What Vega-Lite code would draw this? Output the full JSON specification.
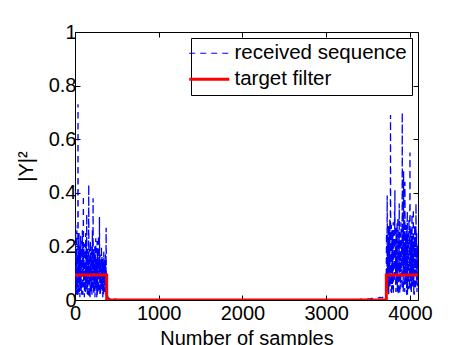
{
  "$schema": "https://vega.github.io/schema/vega-lite/v6.json",
  "width": 343,
  "height": 268,
  "autosize": {"type": "none"},
  "padding": {"left": 75, "top": 32, "right": 39, "bottom": 45},
  "background": "#ffffff",
  "config": {
    "view": {"stroke": "#000000", "strokeWidth": 1},
    "font": "Liberation Sans",
    "axis": {
      "domain": false,
      "grid": false,
      "tickColor": "#000000",
      "tickSize": -5,
      "tickWidth": 1,
      "labelFont": "Liberation Sans",
      "labelFontSize": 20,
      "labelColor": "#000000",
      "titleFont": "Liberation Sans",
      "titleFontSize": 20,
      "titleFontWeight": "normal",
      "titleColor": "#000000"
    },
    "legend": {
      "labelFont": "Liberation Sans",
      "labelFontSize": 20.5,
      "labelColor": "#000000",
      "labelLimit": 400
    }
  },
  "datasets": {
    "received": [
      {"x": 0, "y": 0.45}, {"x": 4, "y": 0.05}, {"x": 8, "y": 0.28}, {"x": 12, "y": 0.12}, {"x": 16, "y": 0.02},
      {"x": 20, "y": 0.22}, {"x": 24, "y": 0.09}, {"x": 28, "y": 0.15}, {"x": 32, "y": 0.01}, {"x": 36, "y": 0.73},
      {"x": 40, "y": 0.06}, {"x": 44, "y": 0.18}, {"x": 48, "y": 0.25}, {"x": 52, "y": 0.03}, {"x": 56, "y": 0.11},
      {"x": 60, "y": 0.2}, {"x": 64, "y": 0.04}, {"x": 68, "y": 0.24}, {"x": 72, "y": 0.08}, {"x": 76, "y": 0.16},
      {"x": 80, "y": 0.02}, {"x": 84, "y": 0.13}, {"x": 88, "y": 0.26}, {"x": 92, "y": 0.05}, {"x": 96, "y": 0.19},
      {"x": 100, "y": 0.39}, {"x": 104, "y": 0.07}, {"x": 108, "y": 0.14}, {"x": 112, "y": 0.01}, {"x": 116, "y": 0.21},
      {"x": 120, "y": 0.1}, {"x": 124, "y": 0.03}, {"x": 128, "y": 0.25}, {"x": 132, "y": 0.12}, {"x": 136, "y": 0.06},
      {"x": 140, "y": 0.32}, {"x": 144, "y": 0.09}, {"x": 148, "y": 0.17}, {"x": 152, "y": 0.02}, {"x": 156, "y": 0.15},
      {"x": 160, "y": 0.08}, {"x": 164, "y": 0.43}, {"x": 168, "y": 0.04}, {"x": 172, "y": 0.19}, {"x": 176, "y": 0.11},
      {"x": 180, "y": 0.01}, {"x": 184, "y": 0.22}, {"x": 188, "y": 0.07}, {"x": 192, "y": 0.14}, {"x": 196, "y": 0.03},
      {"x": 200, "y": 0.18}, {"x": 204, "y": 0.09}, {"x": 208, "y": 0.26}, {"x": 212, "y": 0.05}, {"x": 216, "y": 0.38},
      {"x": 220, "y": 0.12}, {"x": 224, "y": 0.02}, {"x": 228, "y": 0.16}, {"x": 232, "y": 0.08}, {"x": 236, "y": 0.2},
      {"x": 240, "y": 0.04}, {"x": 244, "y": 0.13}, {"x": 248, "y": 0.23}, {"x": 252, "y": 0.06}, {"x": 256, "y": 0.1},
      {"x": 260, "y": 0.01}, {"x": 264, "y": 0.22}, {"x": 268, "y": 0.09}, {"x": 272, "y": 0.15}, {"x": 276, "y": 0.03},
      {"x": 280, "y": 0.24}, {"x": 284, "y": 0.07}, {"x": 288, "y": 0.12}, {"x": 292, "y": 0.31}, {"x": 296, "y": 0.05},
      {"x": 300, "y": 0.17}, {"x": 304, "y": 0.02}, {"x": 308, "y": 0.14}, {"x": 312, "y": 0.08}, {"x": 316, "y": 0.2},
      {"x": 320, "y": 0.04}, {"x": 324, "y": 0.11}, {"x": 328, "y": 0.16}, {"x": 332, "y": 0.01}, {"x": 336, "y": 0.13},
      {"x": 340, "y": 0.06}, {"x": 344, "y": 0.18}, {"x": 348, "y": 0.09}, {"x": 352, "y": 0.03}, {"x": 356, "y": 0.15},
      {"x": 360, "y": 0.07}, {"x": 364, "y": 0.17}, {"x": 368, "y": 0.02}, {"x": 372, "y": 0.27}, {"x": 376, "y": 0.05},
      {"x": 2, "y": 0.14}, {"x": 6, "y": 0.21}, {"x": 10, "y": 0.03}, {"x": 14, "y": 0.19}, {"x": 18, "y": 0.08},
      {"x": 22, "y": 0.26}, {"x": 26, "y": 0.04}, {"x": 30, "y": 0.17}, {"x": 34, "y": 0.11}, {"x": 38, "y": 0.02},
      {"x": 42, "y": 0.23}, {"x": 46, "y": 0.07}, {"x": 50, "y": 0.15}, {"x": 54, "y": 0.2}, {"x": 58, "y": 0.01},
      {"x": 62, "y": 0.13}, {"x": 66, "y": 0.09}, {"x": 70, "y": 0.18}, {"x": 74, "y": 0.03}, {"x": 78, "y": 0.22},
      {"x": 82, "y": 0.06}, {"x": 86, "y": 0.12}, {"x": 90, "y": 0.17}, {"x": 94, "y": 0.02}, {"x": 98, "y": 0.14},
      {"x": 102, "y": 0.09}, {"x": 106, "y": 0.2}, {"x": 110, "y": 0.05}, {"x": 114, "y": 0.16}, {"x": 118, "y": 0.03},
      {"x": 122, "y": 0.12}, {"x": 126, "y": 0.18}, {"x": 130, "y": 0.04}, {"x": 134, "y": 0.21}, {"x": 138, "y": 0.08},
      {"x": 142, "y": 0.13}, {"x": 146, "y": 0.02}, {"x": 150, "y": 0.19}, {"x": 154, "y": 0.06}, {"x": 158, "y": 0.14},
      {"x": 162, "y": 0.1}, {"x": 166, "y": 0.01}, {"x": 170, "y": 0.17}, {"x": 174, "y": 0.07}, {"x": 178, "y": 0.15},
      {"x": 182, "y": 0.04}, {"x": 186, "y": 0.12}, {"x": 190, "y": 0.2}, {"x": 194, "y": 0.06}, {"x": 198, "y": 0.11},
      {"x": 202, "y": 0.02}, {"x": 206, "y": 0.16}, {"x": 210, "y": 0.08}, {"x": 214, "y": 0.13}, {"x": 218, "y": 0.03},
      {"x": 222, "y": 0.19}, {"x": 226, "y": 0.1}, {"x": 230, "y": 0.05}, {"x": 234, "y": 0.14}, {"x": 238, "y": 0.01},
      {"x": 242, "y": 0.17}, {"x": 246, "y": 0.07}, {"x": 250, "y": 0.12}, {"x": 254, "y": 0.04}, {"x": 258, "y": 0.15},
      {"x": 262, "y": 0.09}, {"x": 266, "y": 0.02}, {"x": 270, "y": 0.18}, {"x": 274, "y": 0.06}, {"x": 278, "y": 0.11},
      {"x": 282, "y": 0.03}, {"x": 286, "y": 0.16}, {"x": 290, "y": 0.08}, {"x": 294, "y": 0.13}, {"x": 298, "y": 0.02},
      {"x": 302, "y": 0.1}, {"x": 306, "y": 0.15}, {"x": 310, "y": 0.04}, {"x": 314, "y": 0.12}, {"x": 318, "y": 0.07},
      {"x": 322, "y": 0.16}, {"x": 326, "y": 0.03}, {"x": 330, "y": 0.11}, {"x": 334, "y": 0.08}, {"x": 338, "y": 0.14},
      {"x": 342, "y": 0.02}, {"x": 346, "y": 0.12}, {"x": 350, "y": 0.06}, {"x": 354, "y": 0.1}, {"x": 358, "y": 0.13},
      {"x": 362, "y": 0.03}, {"x": 366, "y": 0.09}, {"x": 370, "y": 0.14}, {"x": 374, "y": 0.04},
      {"x": 380, "y": 0.01}, {"x": 390, "y": 0.015}, {"x": 400, "y": 0.004}, {"x": 420, "y": 0.008}, {"x": 440, "y": 0.002},
      {"x": 460, "y": 0.005}, {"x": 500, "y": 0.001}, {"x": 550, "y": 0.002}, {"x": 600, "y": 0.0005}, {"x": 800, "y": 0},
      {"x": 1500, "y": 0}, {"x": 2500, "y": 0}, {"x": 3300, "y": 0}, {"x": 3400, "y": 0.002}, {"x": 3450, "y": 0.004},
      {"x": 3500, "y": 0.003}, {"x": 3550, "y": 0.006}, {"x": 3600, "y": 0.005}, {"x": 3640, "y": 0.01}, {"x": 3670, "y": 0.008},
      {"x": 3690, "y": 0.015}, {"x": 3700, "y": 0.02}, {"x": 3710, "y": 0.012}, {"x": 3716, "y": 0.03},
      {"x": 3720, "y": 0.25}, {"x": 3724, "y": 0.06}, {"x": 3728, "y": 0.39}, {"x": 3732, "y": 0.1}, {"x": 3736, "y": 0.21},
      {"x": 3740, "y": 0.03}, {"x": 3744, "y": 0.28}, {"x": 3748, "y": 0.12}, {"x": 3752, "y": 0.18}, {"x": 3756, "y": 0.05},
      {"x": 3760, "y": 0.3}, {"x": 3764, "y": 0.14}, {"x": 3768, "y": 0.69}, {"x": 3772, "y": 0.08}, {"x": 3776, "y": 0.22},
      {"x": 3780, "y": 0.02}, {"x": 3784, "y": 0.26}, {"x": 3788, "y": 0.11}, {"x": 3792, "y": 0.19}, {"x": 3796, "y": 0.04},
      {"x": 3800, "y": 0.29}, {"x": 3804, "y": 0.13}, {"x": 3808, "y": 0.23}, {"x": 3812, "y": 0.07}, {"x": 3816, "y": 0.33},
      {"x": 3820, "y": 0.41}, {"x": 3824, "y": 0.09}, {"x": 3828, "y": 0.2}, {"x": 3832, "y": 0.03}, {"x": 3836, "y": 0.27},
      {"x": 3840, "y": 0.15}, {"x": 3844, "y": 0.06}, {"x": 3848, "y": 0.24}, {"x": 3852, "y": 0.1}, {"x": 3856, "y": 0.31},
      {"x": 3860, "y": 0.02}, {"x": 3864, "y": 0.21}, {"x": 3868, "y": 0.12}, {"x": 3872, "y": 0.36}, {"x": 3876, "y": 0.08},
      {"x": 3880, "y": 0.25}, {"x": 3884, "y": 0.04}, {"x": 3888, "y": 0.18}, {"x": 3892, "y": 0.29}, {"x": 3896, "y": 0.11},
      {"x": 3900, "y": 0.22}, {"x": 3904, "y": 0.05}, {"x": 3908, "y": 0.7}, {"x": 3912, "y": 0.14}, {"x": 3916, "y": 0.26},
      {"x": 3920, "y": 0.03}, {"x": 3924, "y": 0.48}, {"x": 3928, "y": 0.09}, {"x": 3932, "y": 0.19}, {"x": 3936, "y": 0.3},
      {"x": 3940, "y": 0.44}, {"x": 3944, "y": 0.06}, {"x": 3948, "y": 0.23}, {"x": 3952, "y": 0.12}, {"x": 3956, "y": 0.28},
      {"x": 3960, "y": 0.02}, {"x": 3964, "y": 0.2}, {"x": 3968, "y": 0.33}, {"x": 3972, "y": 0.08}, {"x": 3976, "y": 0.25},
      {"x": 3980, "y": 0.13}, {"x": 3984, "y": 0.04}, {"x": 3988, "y": 0.3}, {"x": 3992, "y": 0.1}, {"x": 3996, "y": 0.21},
      {"x": 4000, "y": 0.55}, {"x": 4004, "y": 0.07}, {"x": 4008, "y": 0.27}, {"x": 4012, "y": 0.15}, {"x": 4016, "y": 0.03},
      {"x": 4020, "y": 0.24}, {"x": 4024, "y": 0.32}, {"x": 4028, "y": 0.09}, {"x": 4032, "y": 0.18}, {"x": 4036, "y": 0.05},
      {"x": 4040, "y": 0.34}, {"x": 4044, "y": 0.12}, {"x": 4048, "y": 0.22}, {"x": 4052, "y": 0.02}, {"x": 4056, "y": 0.28},
      {"x": 4060, "y": 0.11}, {"x": 4064, "y": 0.19}, {"x": 4068, "y": 0.06}, {"x": 4072, "y": 0.36}, {"x": 4076, "y": 0.14},
      {"x": 4080, "y": 0.25}, {"x": 4084, "y": 0.03}, {"x": 4088, "y": 0.2}, {"x": 4092, "y": 0.1}, {"x": 4096, "y": 0.17},
      {"x": 3722, "y": 0.17}, {"x": 3726, "y": 0.08}, {"x": 3730, "y": 0.24}, {"x": 3734, "y": 0.04}, {"x": 3738, "y": 0.19},
      {"x": 3742, "y": 0.12}, {"x": 3746, "y": 0.02}, {"x": 3750, "y": 0.27}, {"x": 3754, "y": 0.09}, {"x": 3758, "y": 0.2},
      {"x": 3762, "y": 0.05}, {"x": 3766, "y": 0.23}, {"x": 3770, "y": 0.13}, {"x": 3774, "y": 0.03}, {"x": 3778, "y": 0.28},
      {"x": 3782, "y": 0.1}, {"x": 3786, "y": 0.18}, {"x": 3790, "y": 0.06}, {"x": 3794, "y": 0.25}, {"x": 3798, "y": 0.12},
      {"x": 3802, "y": 0.02}, {"x": 3806, "y": 0.21}, {"x": 3810, "y": 0.15}, {"x": 3814, "y": 0.07}, {"x": 3818, "y": 0.26},
      {"x": 3822, "y": 0.11}, {"x": 3826, "y": 0.19}, {"x": 3830, "y": 0.04}, {"x": 3834, "y": 0.22}, {"x": 3838, "y": 0.08},
      {"x": 3842, "y": 0.16}, {"x": 3846, "y": 0.29}, {"x": 3850, "y": 0.03}, {"x": 3854, "y": 0.14}, {"x": 3858, "y": 0.2},
      {"x": 3862, "y": 0.07}, {"x": 3866, "y": 0.25}, {"x": 3870, "y": 0.1}, {"x": 3874, "y": 0.18}, {"x": 3878, "y": 0.02},
      {"x": 3882, "y": 0.23}, {"x": 3886, "y": 0.12}, {"x": 3890, "y": 0.06}, {"x": 3894, "y": 0.27}, {"x": 3898, "y": 0.09},
      {"x": 3902, "y": 0.17}, {"x": 3906, "y": 0.04}, {"x": 3910, "y": 0.22}, {"x": 3914, "y": 0.13}, {"x": 3918, "y": 0.19},
      {"x": 3922, "y": 0.05}, {"x": 3926, "y": 0.28}, {"x": 3930, "y": 0.1}, {"x": 3934, "y": 0.16}, {"x": 3938, "y": 0.03},
      {"x": 3942, "y": 0.24}, {"x": 3946, "y": 0.11}, {"x": 3950, "y": 0.2}, {"x": 3954, "y": 0.06}, {"x": 3958, "y": 0.18},
      {"x": 3962, "y": 0.09}, {"x": 3966, "y": 0.26}, {"x": 3970, "y": 0.02}, {"x": 3974, "y": 0.15}, {"x": 3978, "y": 0.21},
      {"x": 3982, "y": 0.07}, {"x": 3986, "y": 0.19}, {"x": 3990, "y": 0.12}, {"x": 3994, "y": 0.04}, {"x": 3998, "y": 0.25},
      {"x": 4002, "y": 0.1}, {"x": 4006, "y": 0.17}, {"x": 4010, "y": 0.03}, {"x": 4014, "y": 0.22}, {"x": 4018, "y": 0.13},
      {"x": 4022, "y": 0.08}, {"x": 4026, "y": 0.2}, {"x": 4030, "y": 0.05}, {"x": 4034, "y": 0.24}, {"x": 4038, "y": 0.11},
      {"x": 4042, "y": 0.16}, {"x": 4046, "y": 0.02}, {"x": 4050, "y": 0.21}, {"x": 4054, "y": 0.09}, {"x": 4058, "y": 0.14},
      {"x": 4062, "y": 0.26}, {"x": 4066, "y": 0.04}, {"x": 4070, "y": 0.18}, {"x": 4074, "y": 0.12}, {"x": 4078, "y": 0.07},
      {"x": 4082, "y": 0.22}, {"x": 4086, "y": 0.1}, {"x": 4090, "y": 0.15}, {"x": 4094, "y": 0.05}
    ],
    "target": [
      {"x": 0, "y": 0.093}, {"x": 378, "y": 0.093}, {"x": 378, "y": 0}, {"x": 3718, "y": 0},
      {"x": 3718, "y": 0.093}, {"x": 4096, "y": 0.093}
    ]
  },
  "layer": [
    {
      "data": {"name": "received"},
      "mark": {"type": "line", "strokeWidth": 1.3, "clip": true},
      "encoding": {
        "x": {
          "field": "x", "type": "quantitative",
          "scale": {"domain": [0, 4096], "nice": false, "zero": false},
          "axis": {"orient": "bottom", "values": [0, 1000, 2000, 3000, 4000], "format": "d", "labelPadding": 8, "title": "Number of samples", "titlePadding": 5, "labelFlush": false}
        },
        "y": {
          "field": "y", "type": "quantitative",
          "scale": {"domain": [0, 1], "nice": false},
          "axis": {"orient": "left", "values": [0, 0.2, 0.4, 0.6, 0.8, 1], "format": "~g", "labelPadding": 4, "title": "|Y|²", "titlePadding": 12}
        },
        "order": {"field": "x", "type": "quantitative"},
        "color": {
          "datum": "received sequence",
          "scale": {"domain": ["received sequence", "target filter"], "range": ["#0000ff", "#ff0000"]},
          "legend": {
            "title": null,
            "orient": "top-right",
            "offset": 6,
            "padding": 5,
            "rowPadding": 5,
            "symbolSize": 1600,
            "symbolType": "stroke",
            "symbolOffset": 3,
            "labelOffset": 15,
            "strokeColor": "#000000",
            "fillColor": "#ffffff",
            "encode": {"symbols": {"update": {"strokeWidth": {"signal": "datum.label === 'target filter' ? 3 : 1.2"}}}}
          }
        },
        "strokeDash": {
          "datum": "received sequence",
          "scale": {"domain": ["received sequence", "target filter"], "range": [[6, 5], [1, 0]]},
          "legend": {"title": null}
        }
      }
    },
    {
      "data": {"name": "target"},
      "mark": {"type": "line", "strokeWidth": 3, "clip": true},
      "encoding": {
        "x": {
          "field": "x", "type": "quantitative",
          "axis": {"orient": "top", "values": [0, 1000, 2000, 3000, 4000], "labels": false, "title": null}
        },
        "y": {
          "field": "y", "type": "quantitative",
          "axis": {"orient": "right", "values": [0, 0.2, 0.4, 0.6, 0.8, 1], "labels": false, "title": null}
        },
        "order": {"field": "x", "type": "quantitative"},
        "color": {"datum": "target filter"},
        "strokeDash": {"datum": "target filter"}
      }
    }
  ],
  "resolve": {"axis": {"x": "independent", "y": "independent"}}
}
